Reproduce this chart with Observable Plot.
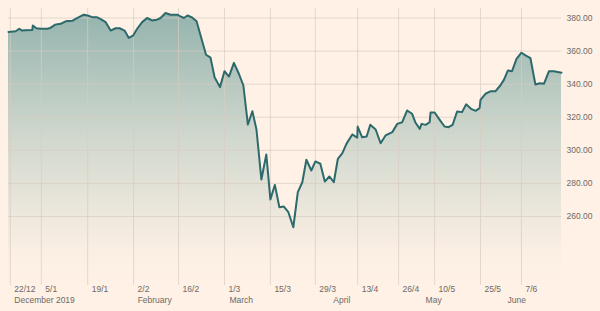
<!DOCTYPE html>
<html>
<head>
<meta charset="utf-8">
<script src="https://cdn.jsdelivr.net/npm/d3@7"></script>
<script src="https://cdn.jsdelivr.net/npm/@observablehq/plot@0.6"></script>
<style>
  html, body { margin: 0; padding: 0; background: #fff1e5; }
  #chart { width: 600px; height: 311px; }
</style>
</head>
<body>
<div id="chart"></div>
<script>
// Trading-day index (position along the x axis) and value
const days = [0,1.6,2.4,3.0,3.8,5.3,5.4,6.2,7.1,8.6,9.3,10.4,11.6,12.7,14.2,14.9,16.0,16.7,17.6,18.6,19.6,20.4,21.6,22.7,23.8,24.7,25.8,26.7,27.7,28.6,29.7,30.8,31.9,33.0,33.8,34.9,36.0,37.5,38.2,39.0,39.8,40.8,41.8,42.8,43.9,44.9,45.8,47.0,48.0,49.0,50.1,51.2,52.2,53.2,54.2,55.1,56.2,57.3,58.2,59.2,60.2,61.2,62.2,63.3,64.3,65.3,66.2,67.3,68.2,69.3,70.3,71.3,72.3,73.2,74.2,75.1,76.4,77.5,77.6,78.6,79.6,80.4,81.6,82.7,83.8,85.3,86.4,87.5,88.6,89.7,90.4,91.4,91.8,92.7,93.6,93.8,94.7,95.8,96.9,97.8,98.7,99.7,100.8,101.7,102.8,103.8,104.7,104.9,106.0,107.1,108.2,109.3,110.1,111.0,111.9,112.9,114.0,115.0,116.0,117.1,118.1,119.0,120.1,121.2,122.9];
const values = [371.6,372,373.5,372.4,372.6,372.8,375.5,373.8,373.5,373.5,374,376,376.5,378,378.3,379.5,381,382,381.5,380.5,380.5,379.5,377.5,372.4,373.8,373.8,372.4,368,369.4,373.5,377.5,380,378.5,379,380,383,382,382,381,380,381.5,380.3,378,368.4,357.8,356,344.2,338.2,347.8,344.6,352.9,346.3,339.2,315.6,323.6,312.8,282.4,297.5,270.3,279.1,265.6,266,262.6,253.5,274.7,280.7,294.3,287.8,293.3,291.9,281.1,284.2,280.7,294.9,298.3,303.9,309.6,307.6,314.4,307.9,308.4,315.5,312.6,304.3,309,311,316,317,324.1,322.1,317,313,316,315.4,317,322.9,322.9,318.6,314.4,314,315.4,323.5,323.1,327.8,325.1,323.9,325.5,330.5,334.2,335.7,335.7,339.2,342.6,348.3,347.8,355.3,359,357.3,355.7,339.8,340.6,340.2,347.8,347.8,346.9];

const tickDays = [0.4,7.3,17.6,27.8,37.8,48.0,58.2,68.2,77.6,86.7,94.7,104.9,114.0];
const tickLabels = ["22/12","5/1","19/1","2/2","16/2","1/3","15/3","29/3","13/4","26/4","10/5","25/5","7/6"];
const monthDays = [1.3,28.7,49.1,72.2,92.7,110.9];
const monthLabels = ["December 2019","February","March","April","May","June"];
const yTicks = [260,280,300,320,340,360,380];

const data = days.map((d, i) => ({d, v: values[i]}));
const xMax = 122.9;
const yBottom = 218.3, yTop = 385.7;

const gradient = () => {
  const defs = d3.create("svg:defs");
  const g = defs.append("linearGradient")
    .attr("id", "areaGrad")
    .attr("gradientUnits", "userSpaceOnUse")
    .attr("x1", 0).attr("x2", 0).attr("y1", 10).attr("y2", 285);
  g.append("stop").attr("offset", "0%").attr("stop-color", "#93b3ad");
  g.append("stop").attr("offset", "45%").attr("stop-color", "#cfd7cd");
  g.append("stop").attr("offset", "88%").attr("stop-color", "#fbefe4");
  g.append("stop").attr("offset", "100%").attr("stop-color", "#fff1e5");
  return defs.node();
};

const txt = "#6e6964";
const chart = Plot.plot({
  width: 600,
  height: 311,
  margin: 0,
  style: {background: "#fff1e5", fontFamily: "'Liberation Sans', Arial, sans-serif", fontSize: "8.5px", color: txt},
  x: {type: "linear", domain: [0, xMax], range: [8, 561], axis: null},
  y: {type: "linear", domain: [260, 380], range: [216, 17.5], axis: null},
  marks: [
    gradient,
    Plot.areaY(data, {x: "d", y1: yBottom, y2: "v", fill: "url(#areaGrad)", curve: "linear"}),
    Plot.ruleY(yTicks, {x1: 0, x2: xMax, stroke: "#d8ccc1", strokeOpacity: 0.7, strokeWidth: 1}),
    Plot.ruleX(tickDays, {y1: yBottom, y2: yTop, stroke: "#d8ccc1", strokeOpacity: 0.7, strokeWidth: 1}),
    Plot.lineY(data, {x: "d", y: "v", stroke: "#2d6a6c", strokeWidth: 2, curve: "linear", strokeLinejoin: "round"}),
    Plot.text(yTicks, {x: xMax, y: d => d, text: d => d.toFixed(2), dx: 5, textAnchor: "start", fill: txt, fontSize: 8.5}),
    Plot.text(tickDays, {x: d => d, frameAnchor: "bottom", dy: -20, dx: 4, text: (d, i) => tickLabels[i], textAnchor: "start", fill: txt, fontSize: 8.5}),
    Plot.text(monthDays, {x: d => d, frameAnchor: "bottom", dy: -9, text: (d, i) => monthLabels[i], textAnchor: "start", fill: txt, fontSize: 8.5})
  ]
});
document.getElementById("chart").appendChild(chart);
</script>
</body>
</html>
